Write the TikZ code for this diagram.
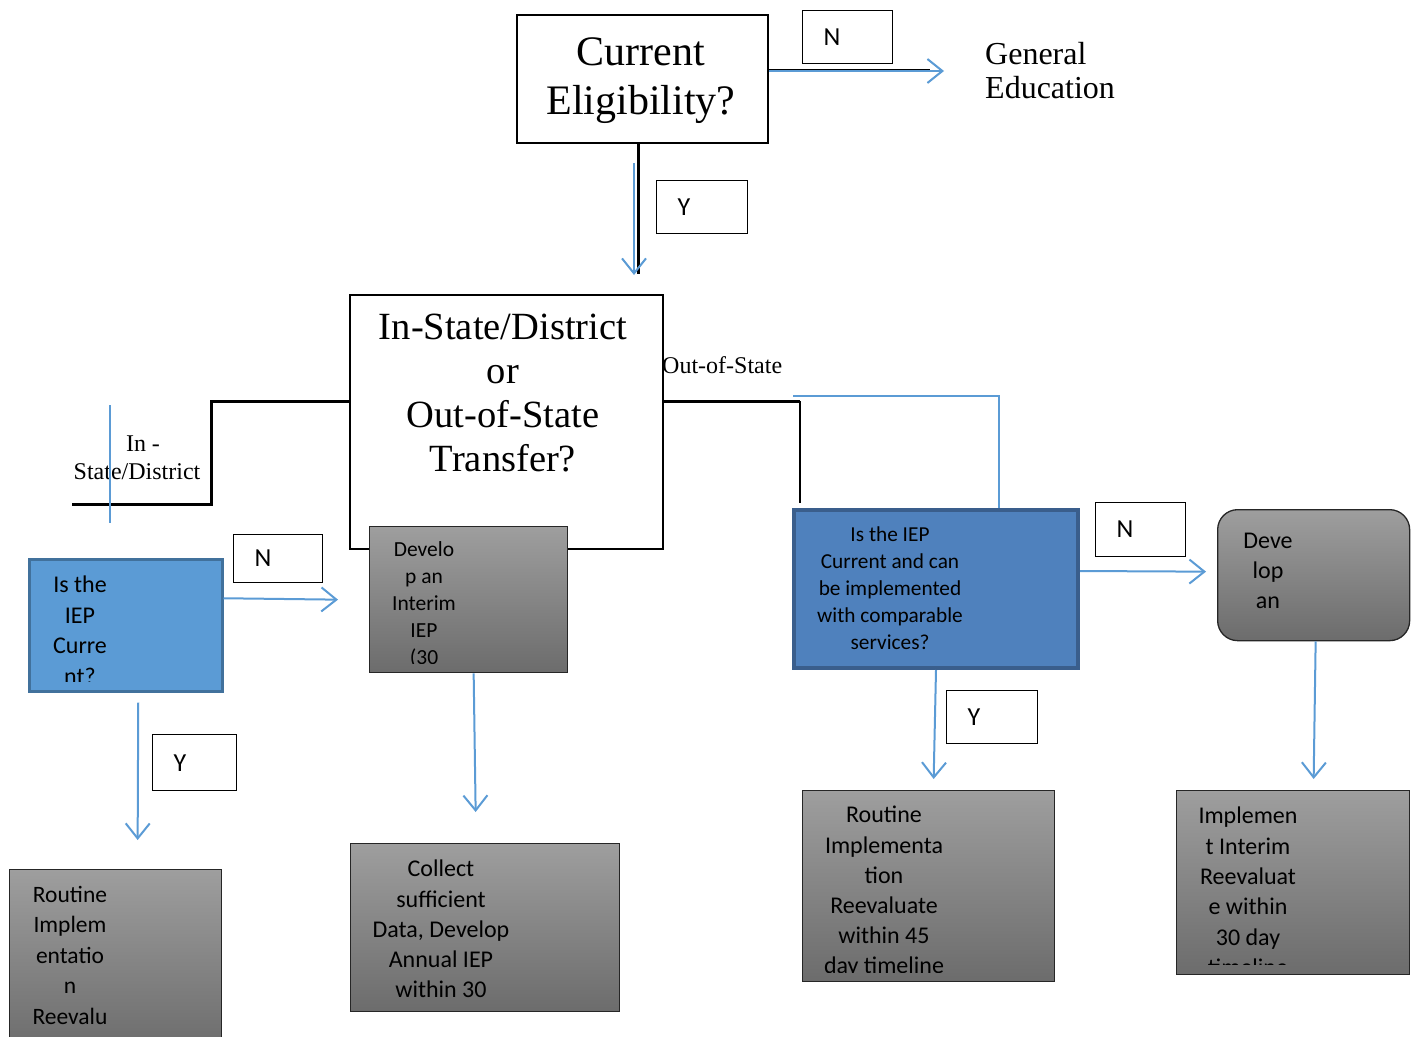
\documentclass[tikz,border=0pt]{standalone}
\usepackage{fontspec}
\setmainfont{Liberation Serif}
\setsansfont{Carlito}
\usetikzlibrary{arrows.meta}
\definecolor{flowblue}{RGB}{91,155,213}
\definecolor{qfill}{RGB}{91,155,213}
\definecolor{qedge}{RGB}{65,113,156}
\definecolor{rfill}{RGB}{79,129,189}
\definecolor{redge}{RGB}{58,94,140}
\definecolor{gtop}{RGB}{158,158,158}
\definecolor{gbot}{RGB}{108,108,108}
\newcommand{\setfs}[2]{\fontsize{#1}{#2}\selectfont}
\tikzset{
  qbox/.style={draw=black,line width=2pt,anchor=north west,inner sep=0pt},
  tagbox/.style={draw=black,line width=1.3pt,anchor=north west,inner ysep=0pt,inner xsep=21pt,align=left,font=\sffamily\setfs{26}{30}},
  gbox/.style={draw=black!85,line width=1.3pt,top color=gtop,bottom color=gbot,anchor=north west,inner sep=0pt},
  lbox/.style={draw=qedge,line width=2.5pt,fill=qfill,anchor=north west,inner sep=0pt},
  rbox/.style={draw=redge,line width=4pt,fill=rfill,anchor=north west,inner sep=0pt},
  txt/.style={anchor=north,inner sep=0pt,align=center},
  flow/.style={flowblue,line width=2pt,-{Straight Barb[length=15pt,width=24pt,line width=2pt]}},
  wire/.style={black,line width=3pt},
  thinblue/.style={flowblue,line width=1.2pt},
}
\begin{document}
\begin{tikzpicture}[x=1pt,y=-1pt]
  \useasboundingbox (0,0) rectangle (1416,1036);

  % questions
  \node[qbox,minimum width=251pt,minimum height=128pt] (elig) at (516,14) {};
  \node[txt,font=\setfs{42}{49.5}] (eligtxt) at (641,37) {Current\\Eligibility?};
  \node[qbox,minimum width=313pt,minimum height=254pt] (transfer) at (349,294) {};
  \node[txt,font=\setfs{38.5}{44}] (transtxt) at (503,314) {In-State/District\\or\\Out-of-State\\Transfer?};
  \node[anchor=north west,inner sep=0pt,align=left,font=\setfs{32}{34}] (gened) at (985,42) {General\\Education};

  % branch labels
  \node[txt,font=\setfs{24}{28}] (inlab) at (137,436) {\hspace*{12pt}In -\\State/District};
  \node[anchor=north west,inner sep=0pt,font=\setfs{24}{28}] (outlab) at (662,356) {Out-of-State};

  % boxes
  \node[lbox,minimum width=193pt,minimum height=132pt] (isiep) at (28,558) {};
  \node[gbox,minimum width=198pt,minimum height=146pt] (interim) at (369,526) {};
  \node[rbox,minimum width=284pt,minimum height=158pt] (compare) at (792,508) {};
  \node[gbox,rounded corners=20pt,minimum width=192pt,minimum height=131pt] (deve) at (1217,509) {};
  \node[gbox,minimum width=212pt,minimum height=181pt] (routineL) at (9,869) {};
  \node[gbox,minimum width=269pt,minimum height=168pt] (collect) at (350,843) {};
  \node[gbox,minimum width=252pt,minimum height=191pt] (routineR) at (802,790) {};
  \node[gbox,minimum width=233pt,minimum height=184pt] (implement) at (1176,790) {};

  \begin{scope}[font=\sffamily]
    \begin{scope}
      \clip (isiep.north west) rectangle ++(193,123);
      \node[txt,font=\sffamily\setfs{24}{30.5}] (isieptxt) at (80,576) {Is the\\IEP\\Curre\\nt?};
    \end{scope}
    \begin{scope}
      \clip (interim.north west) rectangle ++(198,137);
      \node[txt,font=\sffamily\setfs{21.5}{27}] (interimtxt) at (424,541) {Develo\\p an\\Interim\\IEP\\(30};
    \end{scope}
    \node[txt,font=\sffamily\setfs{21.3}{27}] (comparetxt) at (890,527) {Is the IEP\\Current and can\\be implemented\\with comparable\\services?};
    \node[txt,font=\sffamily\setfs{24}{30}] (devetxt) at (1268,533) {Deve\\lop\\an};
    \node[txt,font=\sffamily\setfs{23.5}{30.5}] (routineLtxt) at (70,886) {Routine\\Implem\\entatio\\n\\Reevalu};
    \node[txt,font=\sffamily\setfs{24}{30.25}] (collecttxt) at (441,860) {Collect\\sufficient\\Data, Develop\\Annual IEP\\within 30};
    \begin{scope}
      \clip (routineR.north west) rectangle ++(252,182);
      \node[txt,font=\sffamily\setfs{24}{30.2}] (routineRtxt) at (884,806) {Routine\\Implementa\\tion\\Reevaluate\\within 45\\day timeline};
    \end{scope}
    \begin{scope}
      \clip (implement.north west) rectangle ++(233,174);
      \node[txt,font=\sffamily\setfs{24}{30.3}] (implementtxt) at (1248,807) {Implemen\\t Interim\\Reevaluat\\e within\\30 day\\timeline};
    \end{scope}
  \end{scope}

  % Y / N tags
  \foreach \n/\x/\y/\w/\h/\lab in {tagN1/802/10/48/53/N, tagY1/656/180/49/53/Y,
                                  tagN2/233/534/47/48/N, tagY2/152/734/42/56/Y,
                                  tagN3/1095/502/48/54/N, tagY3/946/690/49/53/Y}
    \node[tagbox,text width=\w pt,minimum height=\h pt] (\n) at (\x,\y) {\lab};

  % connectors
  \coordinate (genwire) at (930,69);
  \coordinate (genin) at (944,71);
  \draw[black,line width=0.8pt] (elig.east|-genwire) -- (genwire);
  \draw[flow] (elig.east|-genin) -- (genin);

  \coordinate (eligend) at (638,274);
  \coordinate (eligblue) at (634,163);
  \coordinate (transin) at (634,275);
  \draw[wire] (elig.south-|eligend) -- (eligend);
  \draw[flow] (eligblue) -- (transin);

  \coordinate (inturn) at (211,401);
  \coordinate (instate) at (72,504);
  \coordinate (inmark) at (110,405);
  \draw[wire] (transfer.west|-inturn) -- (inturn) |- (instate);
  \draw[thinblue] (inmark) -- ++(0,118);

  \coordinate (outturn) at (800,401);
  \coordinate (outblue) at (793,396);
  \draw[wire] (transfer.east|-outturn) -- (outturn);
  \draw[black,line width=1.3pt] (outturn) -- ++(0,102);
  \draw[thinblue] (outblue) -| ([xshift=63pt]compare.north);

  \draw[flow] ([yshift=27pt]isiep.east) -- ([xshift=-31pt]interim.west);
  \draw[flow] ([xshift=12.5pt,yshift=-10pt]isiep.south) -- ([xshift=22pt,yshift=29pt]routineL.north);
  \draw[flow] ([xshift=5pt]interim.south) -- ([xshift=-9.5pt,yshift=31pt]collect.north);
  \draw[flow] ([yshift=18pt]compare.east) -- ([xshift=-11pt,yshift=3.5pt]deve.west);
  \draw[flow] (compare.south) -- ([xshift=5pt,yshift=11pt]routineR.north);
  \draw[flow] ([xshift=2pt]deve.south) -- ([xshift=20.5pt,yshift=11pt]implement.north);
\end{tikzpicture}
\end{document}
